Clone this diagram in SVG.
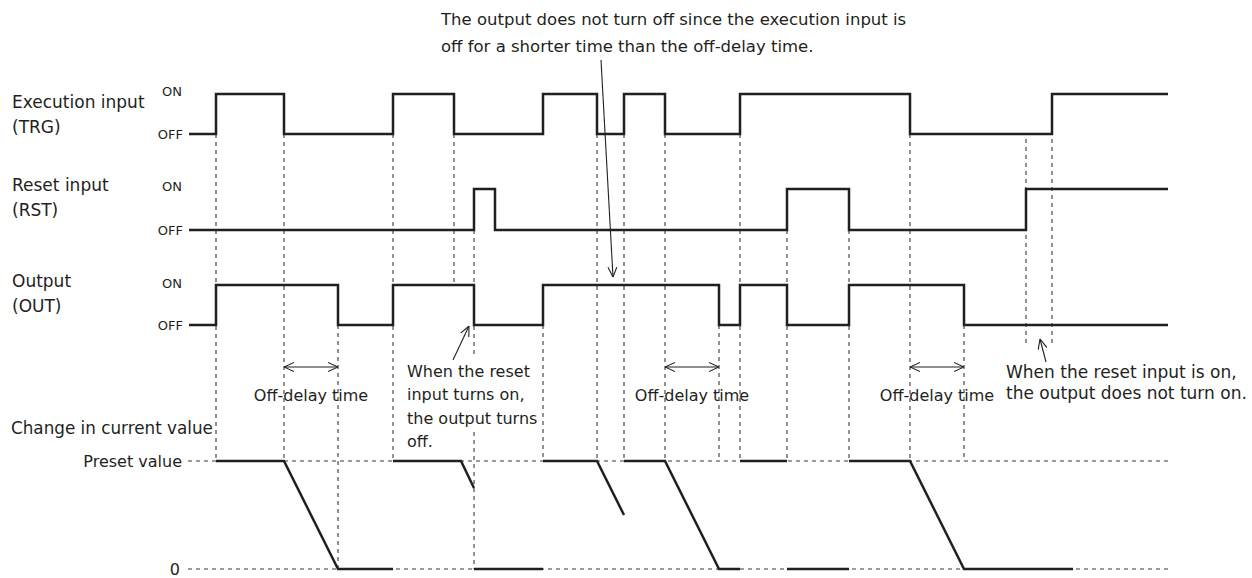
<svg xmlns="http://www.w3.org/2000/svg" width="1252" height="578" viewBox="0 0 1252 578">
<style>
text{font-family:"DejaVu Sans","Noto Sans",sans-serif;fill:#231f20;}
.lbl{font-size:16px;}
.big{font-size:17px;}
.lvl{font-size:13px;}
.wave{fill:none;stroke:#231f20;stroke-width:2.5;stroke-linejoin:miter;stroke-linecap:butt;}
.dash{fill:none;stroke:#3a3a3a;stroke-width:1.1;stroke-dasharray:4 4;}
.arr{fill:none;stroke:#231f20;stroke-width:1.1;}
</style>
<defs>
<marker id="oa" viewBox="0 0 10 10" refX="10" refY="5" markerWidth="10" markerHeight="10" markerUnits="userSpaceOnUse" orient="auto-start-reverse">
<path d="M0,0.5 L10,5 L0,9.5" fill="none" stroke="#231f20" stroke-width="1.1"/>
</marker>
</defs>
<rect width="1252" height="578" fill="#fff"/>

<g id="guides">
<path class="dash" d="M188,461 H1168 M188,569 H1168"/>
<path class="dash" d="M216,134 V461 M284,134 V461 M338,325 V569 M393,134 V461 M454,134 V285 M474,230 V355 M474,432 V569 M543,325 V461 M597,134 V461 M624,134 V461 M665,134 V461 M719,325 V461 M740,134 V461 M787,230 V461 M849,230 V461 M910,134 V461 M964,325 V461 M1026,139 V345 M1052,139 V345"/>
</g>

<g id="trg">
<text class="big" x="12" y="108">Execution input</text>
<text class="big" x="12" y="133">(TRG)</text>
<text class="lvl" x="162" y="96">ON</text>
<text class="lvl" x="183" y="139" text-anchor="end">OFF</text>
<path class="wave" d="M189,134 H216 V94 H284 V134 H393 V94 H454 V134 H543 V94 H597 V134 H624 V94 H665 V134 H740 V94 H910 V134 H1052 V94 H1168"/>
</g>

<g id="rst">
<text class="big" x="12" y="191">Reset input</text>
<text class="big" x="12" y="216">(RST)</text>
<text class="lvl" x="162" y="191">ON</text>
<text class="lvl" x="183" y="235" text-anchor="end">OFF</text>
<path class="wave" d="M189,230 H474 V189 H495 V230 H787 V189 H849 V230 H1026 V189 H1168"/>
</g>

<g id="out">
<text class="big" x="12" y="287">Output</text>
<text class="big" x="12" y="312">(OUT)</text>
<text class="lvl" x="162" y="288">ON</text>
<text class="lvl" x="183" y="330" text-anchor="end">OFF</text>
<path class="wave" d="M189,325 H216 V285 H338 V325 H393 V285 H474 V325 H543 V285 H719 V325 H740 V285 H787 V325 H849 V285 H964 V325 H1168"/>
</g>

<g id="current">
<text x="11" y="434" style="font-size:16.8px">Change in current value</text>
<text class="lbl" x="182" y="467" text-anchor="end">Preset value</text>
<text class="lbl" x="180" y="575" text-anchor="end">0</text>
<path class="wave" d="M216,461 H284 L338,569 H393 M393,461 H461 L474,488 M474,569 H543 M543,461 H597 L624,515 M624,461 H665 L719,569 H740 M740,461 H787 M787,569 H849 M849,461 H910 L964,569 H1073"/>
</g>

<g id="notes">
<text x="441" y="25" style="font-size:16.5px">The output does not turn off since the execution input is</text>
<text x="441" y="52" style="font-size:16.5px">off for a shorter time than the off-delay time.</text>
<text class="lbl" x="311" y="401" text-anchor="middle">Off-delay time</text>
<text class="lbl" x="692" y="401" text-anchor="middle">Off-delay time</text>
<text class="lbl" x="937" y="401" text-anchor="middle">Off-delay time</text>
<text class="lbl" x="407" y="377">When the reset</text>
<text class="lbl" x="407" y="400">input turns on,</text>
<text class="lbl" x="407" y="424">the output turns</text>
<text class="lbl" x="407" y="447">off.</text>
<text class="big" x="1006" y="378">When the reset input is on,</text>
<text class="big" x="1006" y="399">the output does not turn on.</text>
</g>

<g id="connectors">
<path class="arr" d="M601,60 L613,277" marker-end="url(#oa)"/>
<path class="arr" d="M453,360 L469,326" marker-end="url(#oa)"/>
<path class="arr" d="M1046,362 L1040,339" marker-end="url(#oa)"/>
<path class="arr" d="M284,367 H338" marker-start="url(#oa)" marker-end="url(#oa)"/>
<path class="arr" d="M665,367 H719" marker-start="url(#oa)" marker-end="url(#oa)"/>
<path class="arr" d="M910,367 H964" marker-start="url(#oa)" marker-end="url(#oa)"/>
</g>
</svg>
